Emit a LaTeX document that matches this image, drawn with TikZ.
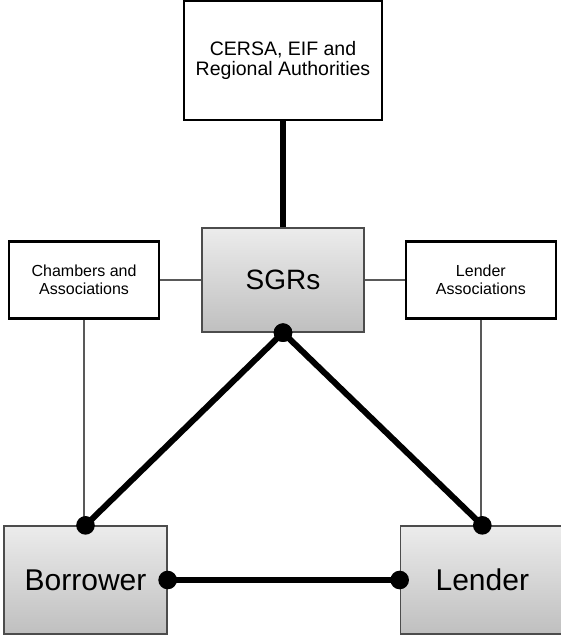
\documentclass[tikz,border=0pt]{standalone}
\usepackage{fontspec}
\setmainfont{Liberation Sans}
\usepackage{tikz}
\usetikzlibrary{positioning, arrows.meta}
\usepackage{xcolor}

\begin{document}
\begin{tikzpicture}[
    x=1pt, y=-1pt,
    plainbox/.style={rectangle, draw, line width=2.5pt, fill=white, inner sep=0pt, align=center},
    greybox/.style={rectangle, draw=gray!60!black, line width=1.3pt, top color=gray!15, bottom color=gray!50, inner sep=0pt, align=center},
    thin link/.style={draw=gray!70!black, line width=1.3pt},
    strong link/.style={line width=6pt},
    dot link/.style={line width=6pt, {Circle[length=18.5pt]}-{Circle[length=18.5pt]}, shorten <=-9.25pt, shorten >=-9.25pt}
]
\useasboundingbox (0,0) rectangle (561,636);

\node[greybox, minimum width=162pt, minimum height=104pt, font=\fontsize{28}{30}\selectfont] (sgrs) at (283,280) {SGRs};
\node[plainbox, minimum width=198pt, minimum height=119pt, font=\fontsize{19.5}{20}\selectfont, above=106pt of sgrs] (cersa) {CERSA, EIF and\\Regional Authorities};
\node[plainbox, minimum width=150pt, minimum height=77pt, font=\fontsize{16}{18}\selectfont, left=41pt of sgrs] (chambers) {Chambers and\\Associations};
\node[plainbox, minimum width=150pt, minimum height=77pt, font=\fontsize{16}{18}\selectfont, right=40pt of sgrs] (lassoc) {Lender\\Associations};

\node[greybox, minimum width=163pt, minimum height=108pt, font=\fontsize{30}{32}\selectfont] (borrower) at (85.5,580) {Borrower};
\node[greybox, minimum width=164pt, minimum height=108pt, font=\fontsize{30}{32}\selectfont, right=232pt of borrower] (lender) {Lender};

\draw[thin link] (chambers) -- (sgrs);
\draw[thin link] (lassoc) -- (sgrs);
\draw[thin link] (chambers.south) -- (chambers.south |- borrower.north);
\draw[thin link] (lassoc.south) -- (lassoc.south |- lender.north);

\draw[strong link] (cersa) -- (sgrs);
\draw[dot link] (sgrs.south) -- (borrower.north);
\draw[dot link] (sgrs.south) -- (lender.north);
\draw[dot link] (borrower) -- (lender);

\end{tikzpicture}
\end{document}
